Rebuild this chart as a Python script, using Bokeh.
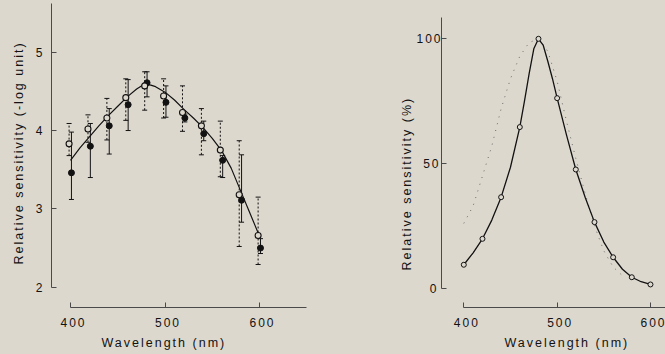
from bokeh.plotting import figure
from bokeh.layouts import row
from bokeh.models import Range1d, FixedTicker, ColumnDataSource, Title
from bokeh.transform import dodge
from bokeh.embed import file_html
from bokeh.resources import INLINE

# ---------------- data ----------------
wavelength = [400, 420, 440, 460, 480, 500, 520, 540, 560, 580, 600]

# left panel: relative sensitivity (-log unit)
open_mean = [3.83, 4.02, 4.16, 4.42, 4.57, 4.44, 4.23, 4.06, 3.75, 3.18, 2.66]
open_upper = [4.09, 4.20, 4.41, 4.66, 4.75, 4.66, 4.57, 4.28, 4.12, 3.87, 3.15]
open_lower = [3.68, 3.85, 3.88, 4.13, 4.26, 4.16, 3.99, 3.69, 3.41, 2.52, 2.29]
filled_mean = [3.46, 3.80, 4.06, 4.33, 4.61, 4.36, 4.16, 3.96, 3.62, 3.11, 2.50]
filled_upper = [3.98, 4.09, 4.28, 4.65, 4.75, 4.57, 4.21, 4.12, 3.68, 3.69, 2.62]
filled_lower = [3.12, 3.40, 3.70, 4.00, 4.43, 4.17, 4.11, 3.87, 3.40, 2.83, 2.43]

fit_wl = [400, 410, 420, 430, 440, 450, 460, 470, 475, 480, 485, 490, 500,
          510, 520, 530, 540, 550, 560, 570, 580, 590, 600]
fit_log = [3.62, 3.78, 3.92, 4.06, 4.19, 4.31, 4.43, 4.53, 4.57, 4.59, 4.58, 4.56, 4.49,
           4.39, 4.27, 4.16, 4.04, 3.90, 3.74, 3.52, 3.23, 2.94, 2.65]

# right panel: relative sensitivity (%)
pct_vals = [9.4, 19.8, 36.5, 64.6, 100, 76.2, 47.6, 26.5, 12.4, 4.4, 1.5]
pct_fit_wl = [400, 410, 420, 430, 440, 450, 460, 465, 470, 475, 480, 485, 490, 495, 500,
              510, 520, 530, 540, 550, 560, 570, 580, 590, 600]
pct_fit = [9.4, 14.2, 19.8, 27.3, 36.5, 48.5, 64.6, 75.0, 86.0, 96.0, 100, 97.5, 91.0, 84.0, 76.2,
           61.5, 47.6, 36.5, 26.5, 18.5, 12.4, 7.6, 4.4, 2.6, 1.5]
dot_wl = [400, 410, 420, 430, 440, 450, 460, 470, 480, 490, 500, 510, 520, 530, 540, 550, 560, 570]
dot_vals = [26, 33, 45, 57, 72, 84, 93, 98.5, 100, 95, 83, 67, 52, 38, 25, 15, 8.5, 5]

x_ticks = [400, 500, 600]
left_y_ticks = [2, 3, 4, 5]
right_y_ticks = [0, 50, 100]

x_title = "Wavelength (nm)"
left_y_title = "Relative sensitivity (-log unit)"
right_y_title = "Relative sensitivity (%)"

# ---------------- styling ----------------
BG = "#ddd8ce"
INK = "#121212"
AXIS = "#4a4a4a"
FONT = "Liberation Sans"
H = 354
FRAME_H = 307


def base_fig(width, xr, yr, left, right):
    p = figure(width=width, height=H, x_range=xr, y_range=yr,
               output_backend="svg", toolbar_location=None,
               min_border_left=left, min_border_right=right,
               min_border_top=0, min_border_bottom=H - FRAME_H)
    p.background_fill_color = BG
    p.border_fill_color = BG
    p.outline_line_color = None
    p.grid.visible = False
    for ax in (p.xaxis[0], p.yaxis[0]):
        ax.axis_line_color = AXIS
        ax.axis_line_width = 1
        ax.major_tick_line_color = AXIS
        ax.major_tick_in = 5
        ax.major_tick_out = 0
        ax.minor_tick_line_color = None
        ax.major_label_text_font = FONT
        ax.major_label_text_font_size = "12px"
        ax.major_label_text_color = INK
    p.xaxis.ticker = FixedTicker(ticks=x_ticks)
    p.xaxis.major_label_standoff = 10
    p.styles = {"letter-spacing": "2px"}
    return p


def add_title(p, text, side, offset, standoff):
    t = Title(text=text, align="left", offset=offset, standoff=standoff,
              text_font=FONT, text_font_size="12.5px", text_font_style="normal",
              text_color=INK)
    p.add_layout(t, side)


# ---------------- left panel ----------------
p1 = base_fig(330, Range1d(379.9, 669.8), Range1d(1.741, 5.660), 51, 5)
p1.xaxis.bounds = (400, 650)
p1.yaxis.ticker = FixedTicker(ticks=left_y_ticks)
p1.yaxis.bounds = (2, 5.62)
p1.yaxis.major_label_standoff = 9

src = ColumnDataSource(dict(wl=wavelength, om=open_mean, ou=open_upper, ol=open_lower,
                            fm=filled_mean, fu=filled_upper, fl=filled_lower))
xo = dodge("wl", -1.5, range=p1.x_range)
xf = dodge("wl", 1.0, range=p1.x_range)

p1.segment(x0=xo, y0="ol", x1=xo, y1="ou", source=src, line_color=INK,
           line_width=1, line_dash="2 2")
p1.segment(x0=xf, y0="fl", x1=xf, y1="fu", source=src, line_color=INK, line_width=1)
for col in ("ou", "ol"):
    p1.scatter(x=xo, y=col, source=src, marker="dash", size=5, line_color=INK, line_width=1)
for col in ("fu", "fl"):
    p1.scatter(x=xf, y=col, source=src, marker="dash", size=5, line_color=INK, line_width=1)

p1.line(fit_wl, fit_log, line_color=INK, line_width=1.2)
p1.scatter(x=xf, y="fm", source=src, size=6, fill_color=INK, line_color=INK)
p1.scatter(x=xo, y="om", source=src, size=6, fill_color=BG, line_color=INK, line_width=1.1)

add_title(p1, x_title, "below", 50, 8)
add_title(p1, left_y_title, "left", 43, 14)

# ---------------- right panel ----------------
p2 = base_fig(335, Range1d(376.1, 616.1), Range1d(-7.74, 115.36), 111, 0)
p2.xaxis.bounds = (400, 700)
p2.yaxis.ticker = FixedTicker(ticks=right_y_ticks)
p2.yaxis.bounds = (0, 108.7)
p2.yaxis.major_label_standoff = 5

p2.line(dot_wl, dot_vals, line_color="#6a6a6a", line_width=1, line_dash="1 6")
p2.line(pct_fit_wl, pct_fit, line_color=INK, line_width=1.3)
p2.scatter(wavelength, pct_vals, size=5, fill_color=BG, line_color=INK, line_width=1)

add_title(p2, x_title, "below", 63, 8)
add_title(p2, right_y_title, "left", 37, 0)

layout = row(p1, p2)
html = file_html(layout, INLINE, title="Spectral sensitivity")
html = html.replace("</head>", "<style>html, body { background: %s; }</style>\n</head>" % BG, 1)
open("out.html", "w").write(html)
